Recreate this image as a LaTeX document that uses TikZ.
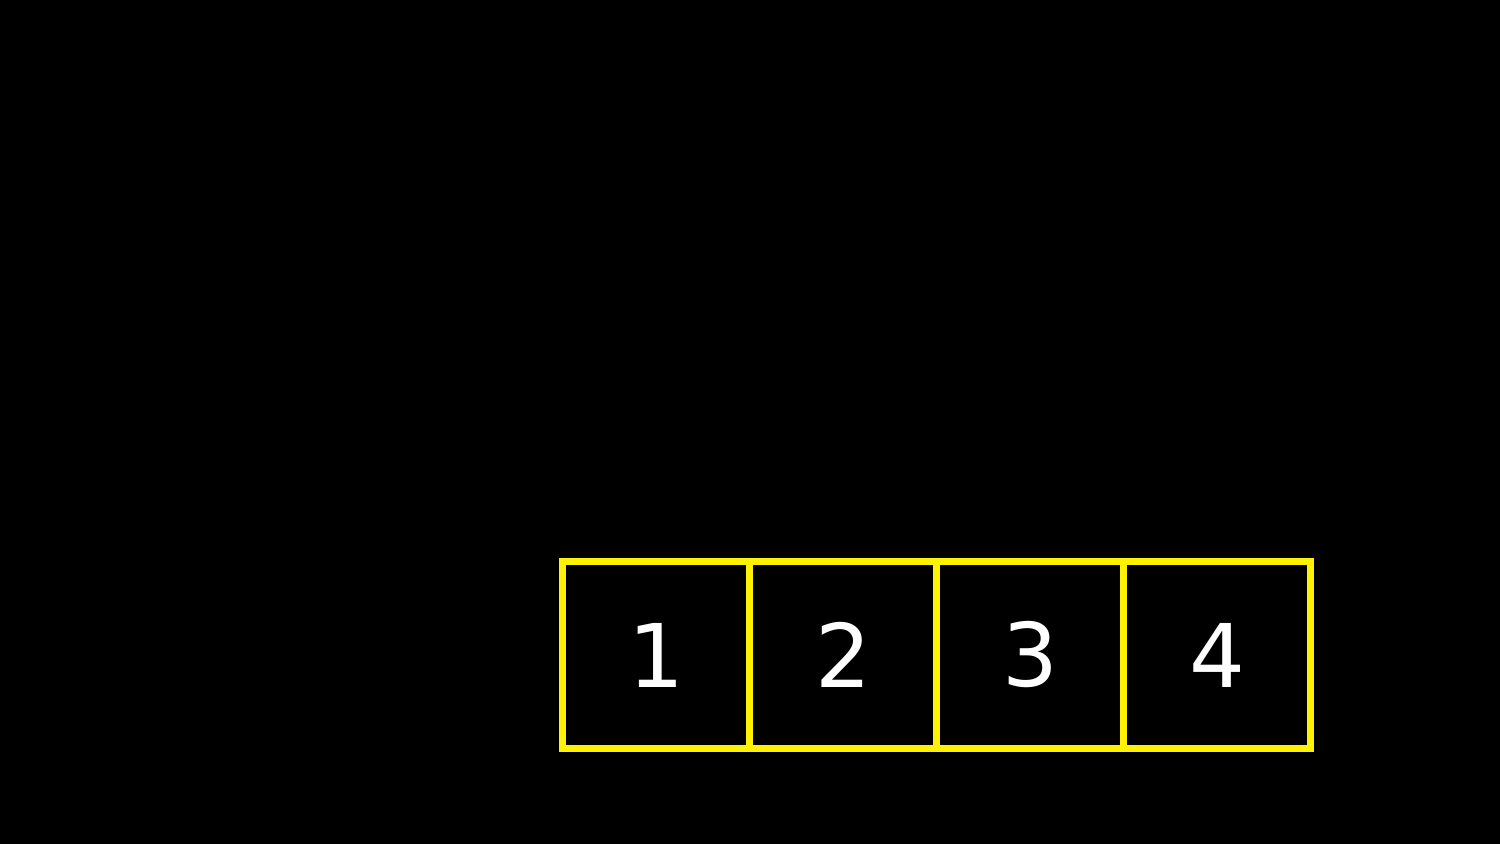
\documentclass[tikz,border=0pt]{standalone}
\usepackage{fontspec}
\setmainfont{DejaVu Sans}
\usetikzlibrary{positioning}

\begin{document}
\begin{tikzpicture}[
    every node/.style={font=\fontsize{25}{30}\selectfont, text=white},
    cell/.style={rectangle, draw=yellow, line width=2pt, minimum size=1.87cm, inner sep=0pt, outer sep=0pt}
    ]

    % Background
    \fill[black] (0,0) rectangle (15,8.44);
    \useasboundingbox (0,0) rectangle (15,8.44);

    % Cells in a row
    \node[cell] (c1) at (6.56,1.89) {1};
    \node[cell, right=0pt of c1] (c2) {2};
    \node[cell, right=0pt of c2] (c3) {3};
    \node[cell, right=0pt of c3] (c4) {4};
\end{tikzpicture}
\end{document}
